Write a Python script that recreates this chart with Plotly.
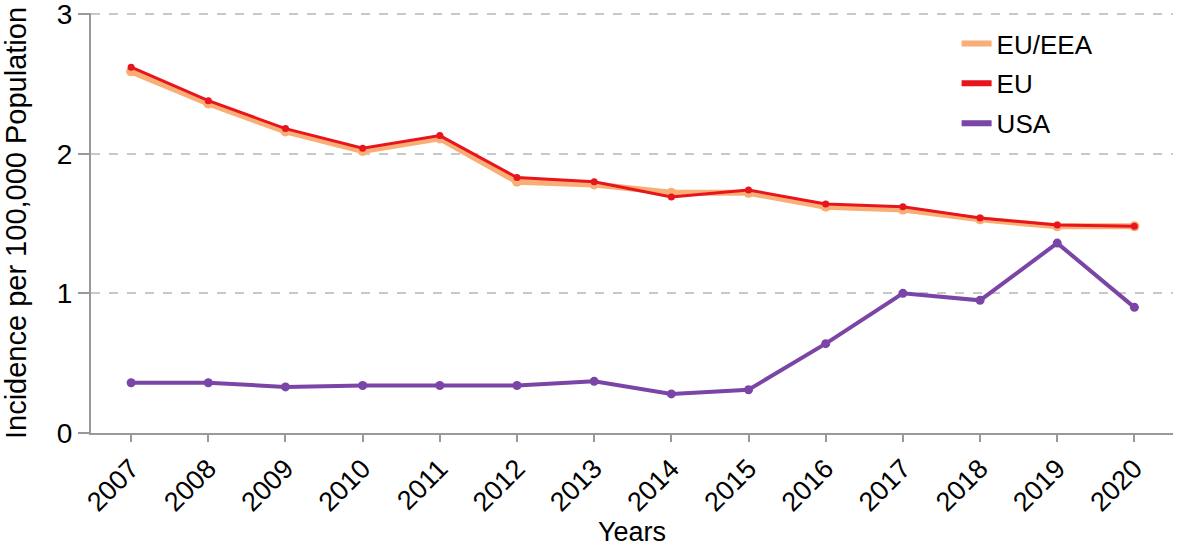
import plotly.graph_objects as go

years = [2007, 2008, 2009, 2010, 2011, 2012, 2013, 2014, 2015, 2016, 2017, 2018, 2019, 2020]
eu_eea = [2.59, 2.36, 2.16, 2.02, 2.11, 1.80, 1.78, 1.72, 1.72, 1.62, 1.60, 1.53, 1.48, 1.48]
eu = [2.62, 2.38, 2.18, 2.04, 2.13, 1.83, 1.80, 1.69, 1.74, 1.64, 1.62, 1.54, 1.49, 1.48]
usa = [0.36, 0.36, 0.33, 0.34, 0.34, 0.34, 0.37, 0.28, 0.31, 0.64, 1.00, 0.95, 1.36, 0.90]

series = [
    ('EU/EEA', eu_eea, '#F9AE75', 6, 10),
    ('EU', eu, '#E8151C', 3, 7),
    ('USA', usa, '#7A45A6', 4, 9),
]

fig = go.Figure()
for name, vals, color, lw, ms in series:
    fig.add_trace(go.Scatter(x=years, y=vals, name=name, mode='lines+markers', showlegend=False,
                             line=dict(color=color, width=lw), marker=dict(size=ms, color=color)))
# legend entries show plain lines only
for name, vals, color, lw, ms in series:
    fig.add_trace(go.Scatter(x=[None], y=[None], name=name, mode='lines', legendgroup=name,
                             line=dict(color=color, width=6)))

font = 'Liberation Sans, Arial, sans-serif'
fig.update_layout(
    width=1181, height=551,
    margin=dict(l=91, r=8, t=13, b=118),
    plot_bgcolor='white', paper_bgcolor='white',
    font=dict(family=font, color='black', size=26),
    legend=dict(x=0.80, y=0.983, xanchor='left', yanchor='top', font=dict(size=26),
                bgcolor='rgba(0,0,0,0)', tracegroupgap=3, itemwidth=30),
    xaxis=dict(range=[2006.48, 2020.5], tickmode='array', tickvals=years,
               ticktext=[str(y) for y in years], tickangle=-45, automargin=False,
               tickfont=dict(size=27), showgrid=False, zeroline=False,
               showline=True, linecolor='#999999', linewidth=2,
               ticks='outside', ticklen=7, tickcolor='#999999', tickwidth=2,
               title=dict(text='Years', font=dict(size=27), standoff=4)),
    yaxis=dict(range=[0, 3.008], tickvals=[0, 1, 2, 3], tickfont=dict(size=28), automargin=False,
               ticklabeloverflow='allow',
               showgrid=True, gridcolor='#C8C8C8', griddash='dash', gridwidth=1.5,
               zeroline=False, showline=True, linecolor='#999999', linewidth=2,
               ticks='outside', ticklen=11, tickcolor='#999999', tickwidth=2,
               title=dict(text='Incidence per 100,000 Population', font=dict(size=29), standoff=30)),
)

# drop the default 8px page margin so the figure fills the window
fig.write_html("out.html", config={'displayModeBar': False},
               post_script="document.body.style.margin='0';")
